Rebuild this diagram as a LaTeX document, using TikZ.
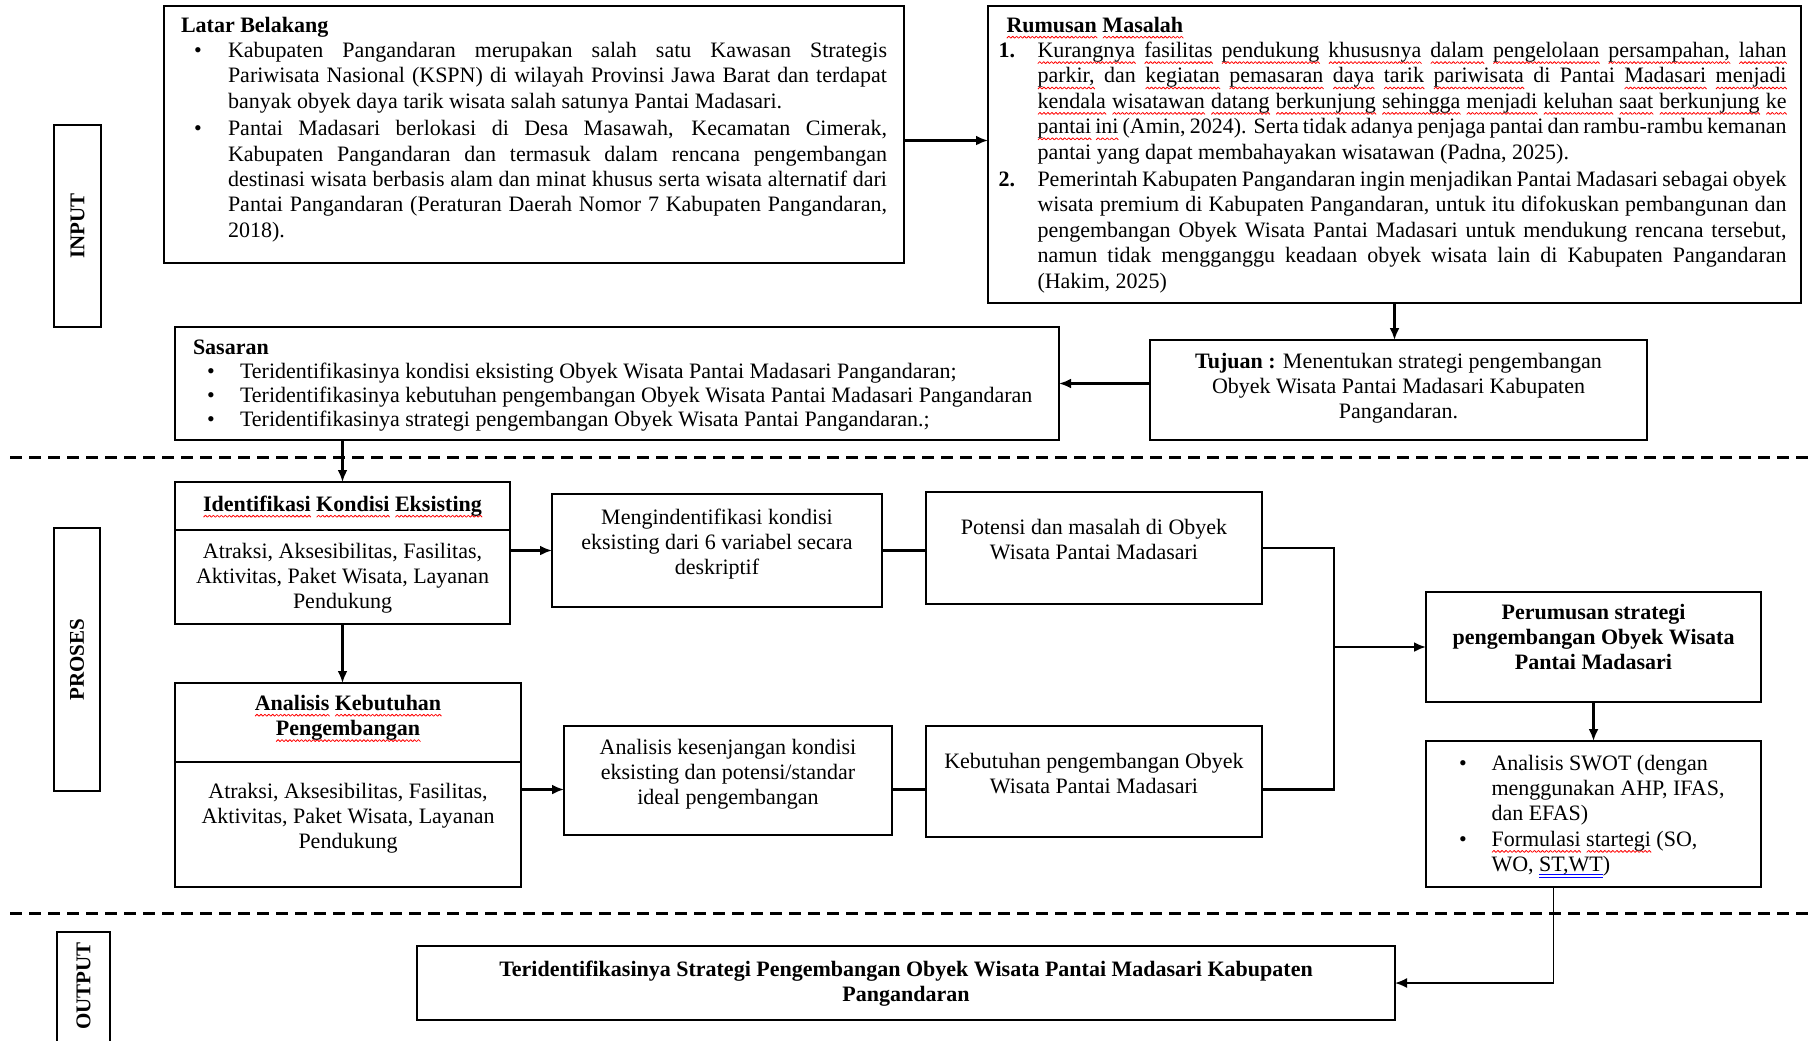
\documentclass[tikz,border=0pt]{standalone}
\usepackage{fontspec}
\setmainfont{Liberation Serif}
\usepackage{graphicx}
\usepackage{enumitem}
\usetikzlibrary{arrows.meta}

\makeatletter
% red wavy mark under each word, blue double line
\newcommand\zig{\hbox{\rotatebox[origin=c]{45}{\rule{1.4pt}{0.4pt}}\kern-0.3pt\rotatebox[origin=c]{-45}{\rule{1.4pt}{0.4pt}}\kern-0.3pt}}
\newcommand\spellword[1]{\leavevmode\setbox0\hbox{#1}\rlap{\raisebox{-2.8pt}[0pt][0pt]{\color{red}\hbox to\wd0{\xleaders\zig\hfil}}}\box0\relax}
\def\spell#1{\sp@ll#1 \@nil}
\def\sp@ll#1 #2\@nil{\spellword{#1}\if\relax\detokenize{#2}\relax\else\ \sp@ll#2\@nil\fi}
\newcommand\gram[1]{\leavevmode\setbox0\hbox{#1}\rlap{\raisebox{-3.2pt}[0pt][0pt]{\color{blue}\vbox{\hrule width\wd0 height0.4pt\kern1pt\hrule width\wd0 height0.4pt}}}\box0\relax}
\makeatother

\newcommand{\boxtext}[4][\centering]{\parbox[c][#3][t]{#2}{#1#4}}
\newcommand{\fb}[1]{\rule{0pt}{#1}}

\SetEnumitemKey{dot}{nosep, label=\textbullet, align=left, labelindent=6.5pt, labelwidth=17pt, labelsep=0pt, leftmargin=23.5pt}
\SetEnumitemKey{num}{nosep, itemsep=1pt, label=\textbf{\arabic*.}, align=left, labelindent=-2pt, labelwidth=19.5pt, labelsep=0pt, leftmargin=17.5pt}

\tikzset{
  box/.style={draw, line width=1.2pt, inner sep=0pt, outer sep=0pt, anchor=north west},
  side/.style={box, font=\fontsize{10.5}{12}\selectfont\bfseries},
  arr/.style={line width=1.2pt, -{Latex[length=6pt, width=5pt]}},
  link/.style={line width=1.2pt},
  sep/.style={line width=1.5pt, dash pattern=on 6pt off 3.5pt}
}

\begin{document}
\begin{tikzpicture}[x=0.5pt, y=-0.5pt, font=\fontsize{11}{12.7}\selectfont]

  \useasboundingbox[fill=white] (0,0) rectangle (1808,1040);

  % INPUT
  \node[side, minimum width=23.5pt, minimum height=101pt] (lblinput) at (54,125) {\rotatebox{90}{INPUT}};

  \node[box, minimum width=370pt] (latar) at (164,6) {\boxtext[\relax]{353pt}{128.5pt}{\fb{13pt}\textbf{Latar Belakang}
    \begin{itemize}[dot, itemsep=1pt]
      \item Kabupaten Pangandaran merupakan salah satu Kawasan Strategis\linebreak
        Pariwisata Nasional (KSPN) di wilayah Provinsi Jawa Barat dan terdapat\linebreak
        banyak obyek daya tarik wisata salah satunya Pantai Madasari.
      \item Pantai Madasari berlokasi di Desa Masawah, Kecamatan Cimerak,\linebreak
        Kabupaten Pangandaran dan termasuk dalam rencana pengembangan\linebreak
        destinasi wisata berbasis alam dan minat khusus serta wisata alternatif dari\linebreak
        Pantai Pangandaran (Peraturan Daerah Nomor 7 Kabupaten Pangandaran,\linebreak
        2018).
    \end{itemize}}};

  \node[box, minimum width=406.5pt] (rumusan) at (988,6) {\boxtext[\relax]{392pt}{148.5pt}{\hspace*{2pt}\fb{13pt}\textbf{\spell{Rumusan Masalah}}
    \begin{enumerate}[num]
      \item \fb{9.5pt}\spell{Kurangnya fasilitas pendukung khususnya dalam pengelolaan persampahan, lahan}\linebreak
        \spell{parkir,} dan \spell{kegiatan pemasaran daya tarik pariwisata} di Pantai \spell{Madasari menjadi}\linebreak
        \spell{kendala wisatawan datang berkunjung sehingga menjadi keluhan saat berkunjung ke}\linebreak
        \spell{pantai ini} (Amin, 2024). Serta tidak adanya penjaga pantai dan rambu-rambu kemanan\linebreak
        pantai yang dapat membahayakan wisatawan (Padna, 2025).
      \item Pemerintah Kabupaten Pangandaran ingin menjadikan Pantai Madasari sebagai obyek\linebreak
        wisata premium di Kabupaten Pangandaran, untuk itu difokuskan pembangunan dan\linebreak
        pengembangan Obyek Wisata Pantai Madasari untuk mendukung rencana tersebut,\linebreak
        namun tidak mengganggu keadaan obyek wisata lain di Kabupaten Pangandaran\linebreak
        (Hakim, 2025)
    \end{enumerate}}};

  \node[box, minimum width=442pt] (sasaran) at (175,327) {\boxtext[\raggedright\fontsize{11}{12}\selectfont]{424pt}{56.5pt}{\fb{13.5pt}\textbf{Sasaran}
    \begin{itemize}[dot, labelindent=7pt, labelwidth=16.5pt]
      \item Teridentifikasinya kondisi eksisting Obyek Wisata Pantai Madasari Pangandaran;
      \item Teridentifikasinya kebutuhan pengembangan Obyek Wisata Pantai Madasari Pangandaran
      \item Teridentifikasinya strategi pengembangan Obyek Wisata Pantai Pangandaran.;
    \end{itemize}}};

  \node[box, minimum width=248.5pt] (tujuan) at (1150,340) {\boxtext{232pt}{50pt}{\fb{14pt}\textbf{Tujuan :} Menentukan strategi pengembangan\\
    Obyek Wisata Pantai Madasari Kabupaten\\ Pangandaran.}};

  % PROSES
  \node[side, minimum width=23pt, minimum height=131.5pt] (lblproses) at (54,528) {\rotatebox{90}{PROSES}};

  \node[box, minimum width=167.5pt] (identhead) at (175,482) {\boxtext{160pt}{24pt}{\fb{14.5pt}\textbf{\spell{Identifikasi Kondisi Eksisting}}}};
  \node[box, minimum width=167.5pt, anchor=north] (identbody) at (identhead.south) {\boxtext{160pt}{47pt}{\fb{14pt}Atraksi, Aksesibilitas, Fasilitas,\\
    Aktivitas, Paket Wisata, Layanan\\ Pendukung}};

  \node[box, minimum width=173pt] (anahead) at (175,683) {\boxtext{165pt}{39.5pt}{\fb{13.5pt}\textbf{\spell{Analisis Kebutuhan}\\ \spell{Pengembangan}}}};
  \node[box, minimum width=173pt, anchor=north] (anabody) at (anahead.south) {\boxtext{165pt}{62.5pt}{\fb{18pt}Atraksi, Aksesibilitas, Fasilitas,\\
    Aktivitas, Paket Wisata, Layanan\\ Pendukung}};

  \node[box, minimum width=165pt] (meng) at (552,494) {\boxtext{155pt}{56.5pt}{\fb{15pt}Mengindentifikasi kondisi\\
    eksisting dari 6 variabel secara\\ deskriptif}};
  \node[box, minimum width=164pt] (kesenj) at (564,726) {\boxtext{155pt}{54.5pt}{\fb{14pt}Analisis kesenjangan kondisi\\
    eksisting dan potensi/standar\\ ideal pengembangan}};

  \node[box, minimum width=168pt] (potensi) at (926,492) {\boxtext{160pt}{56pt}{\fb{21pt}Potensi dan masalah di Obyek\\ Wisata Pantai Madasari}};
  \node[box, minimum width=168pt] (kebutuhan) at (926,726) {\boxtext{160pt}{55.5pt}{\fb{21pt}Kebutuhan pengembangan Obyek\\ Wisata Pantai Madasari}};

  \node[box, minimum width=167.5pt] (perumusan) at (1426,592) {\boxtext{160pt}{55pt}{\fb{13.5pt}\textbf{Perumusan strategi\\
    pengembangan Obyek Wisata\\ Pantai Madasari}}};

  \node[box, minimum width=167.5pt] (swot) at (1426,741) {\boxtext[\raggedright]{150pt}{73pt}{%
    \begin{itemize}[dot, labelindent=7.75pt, labelwidth=16.25pt, leftmargin=24pt]
      \item \fb{14.5pt}Analisis SWOT (dengan\newline menggunakan AHP, IFAS,\newline dan EFAS)
      \item \spell{Formulasi startegi} (SO,\newline WO, \gram{ST,WT})
    \end{itemize}}};

  % OUTPUT
  \node[side, minimum width=26.5pt, minimum height=60pt] (lbloutput) at (57,932) {\rotatebox{90}{\hspace*{6pt}OUTPUT}};

  \node[box, minimum width=489pt] (hasil) at (417,946) {\boxtext{475pt}{37pt}{\fb{15pt}\textbf{Teridentifikasinya Strategi Pengembangan Obyek Wisata Pantai Madasari Kabupaten\\ Pangandaran}}};

  \draw[sep] (10,457) -- (1808,457);
  \draw[sep] (10,913) -- (1808,913);

  \coordinate (lb) at ([yshift=-3pt]latar.east);
  \coordinate (lowrow) at ([yshift=-4.5pt]kesenj.west);
  \coordinate (jn) at (1334,647);
  \coordinate (sw) at ([xshift=-20pt]swot.south);

  \draw[arr] (lb) -- (lb -| rumusan.west);
  \draw[arr] (rumusan.south) -- (rumusan.south |- tujuan.north);
  \draw[arr] (tujuan.west |- sasaran.east) -- (sasaran.east);
  \draw[arr] (identhead.north |- sasaran.south) -- (identhead.north);
  \draw[arr] (identbody.south) -- (identbody.south |- anahead.north);
  \draw[arr] (identbody.east |- meng.west) -- (meng.west);
  \draw[link] (meng.east) -- (meng.east -| potensi.west);
  \draw[arr] (anabody.east |- lowrow) -- (lowrow);
  \draw[link] (kesenj.east |- lowrow) -- (kebutuhan.west |- lowrow);
  \draw[link] (potensi.east) -| (jn);
  \draw[link] (kebutuhan.east |- lowrow) -| (jn);
  \draw[arr] (jn) -- (jn -| perumusan.west);
  \draw[arr] (perumusan.south) -- (swot.north);
  \draw[arr, line width=0.8pt] (sw) |- (hasil.east);

\end{tikzpicture}
\end{document}
